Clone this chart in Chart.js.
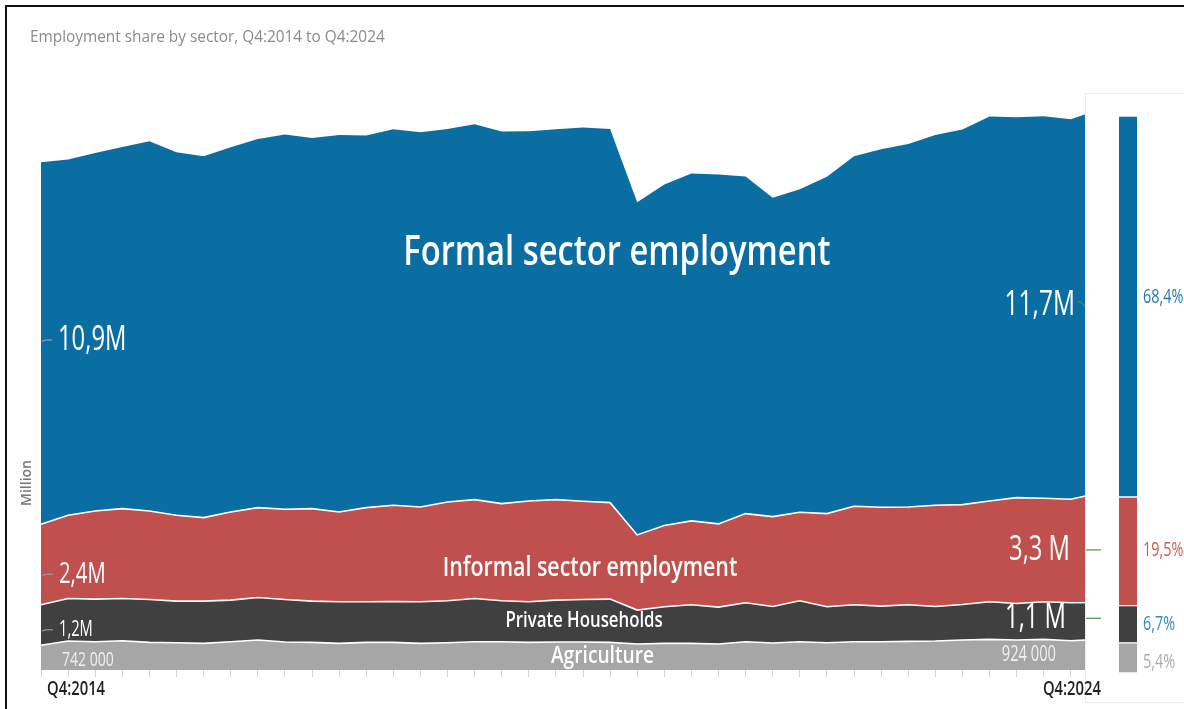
<!DOCTYPE html>
<html>
<head>
<meta charset="utf-8">
<title>Employment share by sector</title>
<script src="https://cdn.jsdelivr.net/npm/chart.js"></script>
<style>
  html, body { margin: 0; padding: 0; background: #fff; overflow: hidden; }
  body { width: 1184px; height: 709px; position: relative; }
  #frame { position: absolute; left: 5px; top: 5px; width: 1300px; height: 800px;
           border-left: 2px solid #111; border-top: 2px solid #111; }
  #panelFoot { position: absolute; left: 1085px; top: 681px; width: 120px; height: 21px;
               border-left: 1px solid #ececec; border-bottom: 1px solid #ececec; }
  #areaChart { position: absolute; left: 0; top: 0; }
  #sharePanel { position: absolute; left: 1085px; top: 93px; width: 100px; height: 588px;
                box-sizing: border-box; background: #fff;
                border-left: 1px solid #ececec; border-top: 1px solid #ececec; }
  #shareChart { position: absolute; left: 0; top: 0; }
</style>
</head>
<body>
<div id="frame"></div>
<div id="panelFoot"></div>
<canvas id="areaChart" width="1184" height="709"></canvas>
<div id="sharePanel"><canvas id="shareChart" width="99" height="587"></canvas></div>

<script>
/////////////////////////////// DATA (million employed) ///////////////////////////////
const QUARTERS = [
  "Q4:2014",
  "Q1:2015", "Q2:2015", "Q3:2015", "Q4:2015",
  "Q1:2016", "Q2:2016", "Q3:2016", "Q4:2016",
  "Q1:2017", "Q2:2017", "Q3:2017", "Q4:2017",
  "Q1:2018", "Q2:2018", "Q3:2018", "Q4:2018",
  "Q1:2019", "Q2:2019", "Q3:2019", "Q4:2019",
  "Q1:2020", "Q2:2020", "Q3:2020", "Q4:2020",
  "Q1:2021", "Q2:2021", "Q3:2021", "Q4:2021",
  "Q1:2022", "Q2:2022", "Q3:2022", "Q4:2022",
  "Q1:2023", "Q2:2023", "Q3:2023", "Q4:2023",
  "Q1:2024", "Q2:2024", "Q3:2024", "Q4:2024"
];

const AGRICULTURE = [0.742, 0.87, 0.85, 0.88, 0.83, 0.82, 0.80, 0.85, 0.90, 0.84,
  0.83, 0.80, 0.83, 0.83, 0.80, 0.82, 0.85, 0.85, 0.83, 0.84,
  0.84, 0.83, 0.78, 0.80, 0.80, 0.78, 0.85, 0.81, 0.85, 0.82,
  0.85, 0.85, 0.86, 0.87, 0.90, 0.92, 0.90, 0.92, 0.88, 0.92, 0.924];

const PRIVATE_HOUSEHOLDS = [1.22, 1.28, 1.28, 1.27, 1.29, 1.25, 1.27, 1.25, 1.28, 1.28,
  1.24, 1.25, 1.22, 1.23, 1.25, 1.26, 1.30, 1.23, 1.22, 1.26,
  1.28, 1.30, 1.02, 1.10, 1.16, 1.11, 1.17, 1.10, 1.23, 1.08,
  1.11, 1.07, 1.10, 1.04, 1.07, 1.13, 1.10, 1.13, 1.14, 1.11, 1.14];

const INFORMAL = [2.42, 2.50, 2.65, 2.70, 2.66, 2.58, 2.51, 2.65, 2.70, 2.71,
  2.78, 2.70, 2.83, 2.89, 2.85, 2.97, 2.97, 2.92, 3.03, 3.02,
  2.95, 2.90, 2.26, 2.44, 2.52, 2.50, 2.68, 2.70, 2.66, 2.80,
  2.96, 2.97, 2.94, 3.04, 3.00, 3.03, 3.18, 3.11, 3.11, 3.28, 3.33];

const FORMAL = [10.88, 10.69, 10.76, 10.87, 11.11, 10.91, 10.86, 10.96, 11.08, 11.26,
  11.14, 11.33, 11.18, 11.30, 11.26, 11.21, 11.28, 11.18, 11.11, 11.13,
  11.23, 11.23, 10.00, 10.25, 10.44, 10.50, 10.13, 9.58, 9.71, 10.12,
  10.52, 10.76, 10.91, 11.13, 11.27, 11.55, 11.43, 11.48, 11.42, 11.52, 11.68];

const SERIES_NAMES = ["Agriculture", "Private Households", "Informal sector employment", "Formal sector employment"];

/////////////////////////////// STYLE ///////////////////////////////
const c_agri = "#A6A6A6";
const c_house = "#404040";
const c_informal = "#C0504D";
const c_formal = "#0B6EA2";

const FONT = '"Open Sans", "Noto Sans", sans-serif';
const PANEL_LEFT = 1085;

// bottom-to-top stacking order
const SERIES = [
  { name: SERIES_NAMES[0], values: AGRICULTURE, color: c_agri },
  { name: SERIES_NAMES[1], values: PRIVATE_HOUSEHOLDS, color: c_house },
  { name: SERIES_NAMES[2], values: INFORMAL, color: c_informal },
  { name: SERIES_NAMES[3], values: FORMAL, color: c_formal }
];
const LAST = QUARTERS.length - 1;

// in-band label styling, one entry per series (same order as SERIES)
const nameStyle = [
  { at: [20.72, 0.42], size: 24, squeeze: 0.8 },
  { at: [20.04, 1.47], size: 21, squeeze: 0.8 },
  { at: [20.26, 3.06], size: 27, squeeze: 0.79 },
  { at: [21.25, 12.52], size: 42, squeeze: 0.78 }
];
const startStyle = [
  { dx: 21, dy: 3, size: 20, color: "#efefef" },
  { dx: 18, dy: 5, size: 21, color: "#ffffff" },
  { dx: 18, dy: 10, size: 29, color: "#ffffff" },
  { dx: 17, dy: -3, size: 34, color: "#ffffff" }
];
const endStyle = [
  { inset: 29, dy: 0, size: 21, color: "#efefef", sep: "" },
  { inset: 19, dy: -2, size: 34, color: "#ffffff", sep: " " },
  { inset: 15, dy: 4, size: 34, color: "#ffffff", sep: " " },
  { inset: 10, dy: 9, size: 35, color: "#ffffff", sep: "" }
];
const shareColors = ["#adadad", "#2f8ac4", "#cd5a57", "#1f78b4"];
const shareDy = [4, 0, -1, -9];

/////////////////////////////// HELPERS ///////////////////////////////
function drawText(ctx, text, x, y, o) {
  ctx.save();
  ctx.translate(x, y);
  if (o.rotate) ctx.rotate(o.rotate);
  ctx.scale(o.squeeze || 1, 1);
  ctx.font = (o.weight || 400) + " " + o.size + "px " + FONT;
  ctx.fillStyle = o.color;
  ctx.textAlign = o.align || "left";
  ctx.textBaseline = "middle";
  ctx.fillText(text, 0, 0);
  ctx.restore();
}

// 10.88 -> "10,9M", 0.742 -> "742 000"
function formatValue(v, sep) {
  if (v < 1) return String(Math.round(v * 1e6)).replace(/\B(?=(\d{3})+(?!\d))/g, " ");
  return v.toFixed(1).replace(".", ",") + sep + "M";
}

// pixel y of the middle of band k at point i
function bandMiddle(chart, k, i) {
  let below = 0;
  for (let j = 0; j < k; j++) below += SERIES[j].values[i];
  return chart.scales.y.getPixelForValue(below + SERIES[k].values[i] / 2);
}

function leader(ctx, x1, y1, x2, y2, color) {
  ctx.save();
  ctx.strokeStyle = color;
  ctx.lineWidth = 1.2;
  ctx.beginPath();
  ctx.moveTo(x1, y1);
  ctx.quadraticCurveTo((x1 + x2) / 2, y1 - 2, x2, y2);
  ctx.stroke();
  ctx.restore();
}

/////////////////////////////// TEXT PLUGINS ///////////////////////////////
const areaText = {
  id: "areaText",
  afterDraw(chart) {
    const ctx = chart.ctx;
    const xs = chart.scales.x, ys = chart.scales.y;
    const area = chart.chartArea;

    drawText(ctx, "Employment share by sector, Q4:2014 to Q4:2024", 30, 37,
      { size: 16, color: "#8a8a8a", squeeze: 0.96 });
    drawText(ctx, "Million", 27, 483,
      { size: 14, weight: 600, color: "#777", align: "center", rotate: -Math.PI / 2 });

    drawText(ctx, QUARTERS[0], area.left + 6, 690,
      { size: 19, weight: 600, color: "#222", squeeze: 0.78 });
    drawText(ctx, QUARTERS[LAST], PANEL_LEFT + 16, 690,
      { size: 19, weight: 600, color: "#222", squeeze: 0.78, align: "right" });

    SERIES.forEach((s, k) => {
      const ns = nameStyle[k];
      drawText(ctx, s.name, xs.getPixelForValue(ns.at[0]), ys.getPixelForValue(ns.at[1]),
        { size: ns.size, weight: 600, color: "#ffffff", align: "center", squeeze: ns.squeeze });

      // first quarter value
      const st = startStyle[k];
      const x0 = xs.getPixelForValue(0);
      const y0 = bandMiddle(chart, k, 0) + st.dy;
      if (k > 0) leader(ctx, x0 + 1, y0 + 1, x0 + st.dx - 6, y0, "#9a9a9a");
      drawText(ctx, formatValue(s.values[0], ""), x0 + st.dx, y0,
        { size: st.size, color: st.color, squeeze: 0.7 });

      // latest quarter value
      const en = endStyle[k];
      const y1 = bandMiddle(chart, k, LAST) + en.dy;
      drawText(ctx, formatValue(s.values[LAST], en.sep), PANEL_LEFT - en.inset, y1,
        { size: en.size, color: en.color, squeeze: 0.7, align: "right" });
      if (k === 3) leader(ctx, PANEL_LEFT - en.inset + 3, y1 - 3, PANEL_LEFT, y1 + 2, "#4f8f4f");
    });
  }
};

/////////////////////////////// AREA CHART ///////////////////////////////
const areaChart = new Chart(document.getElementById("areaChart"), {
  type: "line",
  data: {
    labels: QUARTERS,
    datasets: SERIES.map((s, k) => ({
      label: s.name,
      data: s.values,
      backgroundColor: s.color,
      borderColor: k < 3 ? "#ffffff" : "rgba(0,0,0,0)",
      borderWidth: k < 3 ? 1.6 : 0,
      fill: k === 0 ? "origin" : "-1",
      pointRadius: 0,
      tension: 0
    }))
  },
  options: {
    responsive: false,
    animation: false,
    events: [],
    layout: { padding: { left: 41, right: 59, top: 81, bottom: 32 } },
    plugins: { legend: { display: false }, tooltip: { enabled: false } },
    scales: {
      x: {
        grid: { drawOnChartArea: false, tickLength: 7, color: "#d4d4d4" },
        border: { display: false },
        ticks: { display: false }
      },
      y: { display: false, stacked: true, min: 0, max: 17.7 }
    }
  },
  plugins: [areaText]
});

/////////////////////////////// SHARE BAR (latest quarter) ///////////////////////////////
const latestTotal = SERIES.reduce((sum, s) => sum + s.values[LAST], 0);
const SHARES = SERIES.map(s => s.values[LAST] / latestTotal * 100);

const shareText = {
  id: "shareText",
  afterDatasetsDraw(chart) {
    const ctx = chart.ctx;
    chart.data.datasets.forEach((ds, k) => {
      const bar = chart.getDatasetMeta(k).data[0];
      const mid = (bar.y + bar.base) / 2 + shareDy[k];
      drawText(ctx, SHARES[k].toFixed(1).replace(".", ",") + "%", bar.x + bar.width / 2 + 6, mid,
        { size: 20, color: shareColors[k], squeeze: 0.72 });
    });
    // leader stubs continuing from the informal and household value labels
    const top = chart.canvas.getBoundingClientRect().top;
    [1, 2].forEach(k => {
      const y = bandMiddle(areaChart, k, LAST) + endStyle[k].dy - top;
      ctx.save();
      ctx.strokeStyle = "#4f8f4f";
      ctx.lineWidth = 1.2;
      ctx.beginPath();
      ctx.moveTo(0, y);
      ctx.lineTo(15, y);
      ctx.stroke();
      ctx.restore();
    });
  }
};

const shareChart = new Chart(document.getElementById("shareChart"), {
  type: "bar",
  data: {
    labels: [QUARTERS[LAST]],
    datasets: SERIES.map((s, k) => ({
      label: s.name,
      data: [SHARES[k]],
      backgroundColor: s.color,
      borderColor: "#ffffff",
      borderWidth: { top: 1, bottom: 1, left: 0, right: 0 },
      borderSkipped: false,
      barThickness: 18
    }))
  },
  options: {
    responsive: false,
    animation: false,
    events: [],
    layout: { padding: { left: 30, right: 45, top: 22, bottom: 8 } },
    plugins: { legend: { display: false }, tooltip: { enabled: false } },
    scales: {
      x: { display: false, stacked: true },
      y: { display: false, stacked: true, min: 0, max: 100 }
    }
  },
  plugins: [shareText]
});
</script>
</body>
</html>
